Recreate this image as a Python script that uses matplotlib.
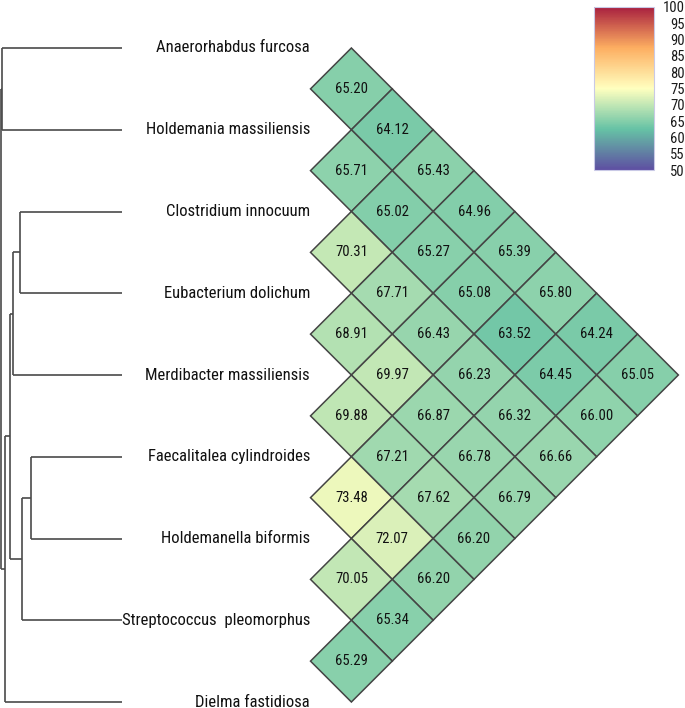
import numpy as np
import matplotlib
matplotlib.use('Agg')
import matplotlib.pyplot as plt
from matplotlib.patches import Polygon
from matplotlib.colors import Normalize, LinearSegmentedColormap

# leaf order (top to bottom)
species = ['Anaerorhabdus furcosa', 'Holdemania massiliensis', 'Clostridium innocuum',
           'Eubacterium dolichum', 'Merdibacter massiliensis', 'Faecalitalea cylindroides',
           'Holdemanella biformis', 'Streptococcus  pleomorphus', 'Dielma fastidiosa']

# upper triangle: row i holds values for pairs (i, i+1), (i, i+2), ...
ani_rows = [
    [65.20, 64.12, 65.43, 64.96, 65.39, 65.80, 64.24, 65.05],
    [65.71, 65.02, 65.27, 65.08, 63.52, 64.45, 66.00],
    [70.31, 67.71, 66.43, 66.23, 66.32, 66.66],
    [68.91, 69.97, 66.87, 66.78, 66.79],
    [69.88, 67.21, 67.62, 66.20],
    [73.48, 72.07, 66.20],
    [70.05, 65.34],
    [65.29],
]

# dendrogram merges: (left, right, height); leaves 0..8, clusters 9..
merges = [
    (0, 1, 0.981),
    (2, 3, 0.836),
    (10, 4, 0.891),
    (5, 6, 0.748),
    (12, 7, 0.817),
    (11, 13, 0.918),
    (14, 8, 0.959),
    (9, 15, 0.990),
]

cbar_ticks = [50, 55, 60, 65, 70, 75, 80, 85, 90, 95, 100]
ramp = ['#5E4FA2', '#66C2A5', '#FFFFBF', '#FDAE61', '#A8203F']

W, H = 685, 708
PX = 81.75            # pixels per leaf step
LEAF_X = 122 / PX     # where leaf lines end
LABEL_X = 310 / PX
X0 = 310.5 / PX       # left corner of the triangle
HW = 0.5

fam = ['Roboto Condensed', 'Liberation Sans Narrow', 'Roboto', 'DejaVu Sans']

fig = plt.figure(figsize=(W / 100, H / 100), dpi=100)
ax = fig.add_axes([0, 0, 1, 1])
ax.set_xlim(0, W / PX)
ax.set_ylim((H - 48) / PX, -48 / PX)
ax.axis('off')

# dendrogram
n = len(species)
pos = {i: (LEAF_X, float(i)) for i in range(n)}
for k, (a, b, h) in enumerate(merges):
    xm = LEAF_X * (1 - h)
    xa, ya = pos[a]
    xb, yb = pos[b]
    ax.plot([xa, xm], [ya, ya], color='#4a4a4a', lw=1.2, solid_capstyle='butt')
    ax.plot([xb, xm], [yb, yb], color='#4a4a4a', lw=1.2, solid_capstyle='butt')
    ax.plot([xm, xm], [ya, yb], color='#4a4a4a', lw=1.2, solid_capstyle='butt')
    pos[n + k] = (xm, (ya + yb) / 2)

for i, name in enumerate(species):
    ax.text(LABEL_X, i, name, ha='right', va='center', fontsize=12,
            family=fam, color='#111111')

# triangular heatmap of diamonds
cmap = LinearSegmentedColormap.from_list('spec', ramp)
norm = Normalize(50, 100)
for i, row in enumerate(ani_rows):
    for k, v in enumerate(row):
        j = i + 1 + k
        d = j - i
        cx = X0 + d * HW
        cy = (i + j) / 2
        verts = [(cx - HW, cy), (cx, cy - 0.5), (cx + HW, cy), (cx, cy + 0.5)]
        ax.add_patch(Polygon(verts, closed=True, facecolor=cmap(norm(v)),
                             edgecolor='#444444', lw=1.1))
        ax.text(cx, cy, f'{v:.2f}', ha='center', va='center', fontsize=10.5,
                family=fam, color='#111111')

# colorbar
cax = fig.add_axes([594 / W, 1 - 170 / H, 60 / W, 163 / H])
sm = plt.cm.ScalarMappable(norm=norm, cmap=cmap)
cb = fig.colorbar(sm, cax=cax, ticks=cbar_ticks)
cb.outline.set_edgecolor('#c9c9e6')
cb.outline.set_linewidth(0.8)
cax.tick_params(length=0, pad=22, labelsize=10.5)
for t in cax.get_yticklabels():
    t.set_ha('right')
    t.set_family(fam)
    t.set_color('#1a1a1a')

fig.savefig('out.png', dpi=100)
